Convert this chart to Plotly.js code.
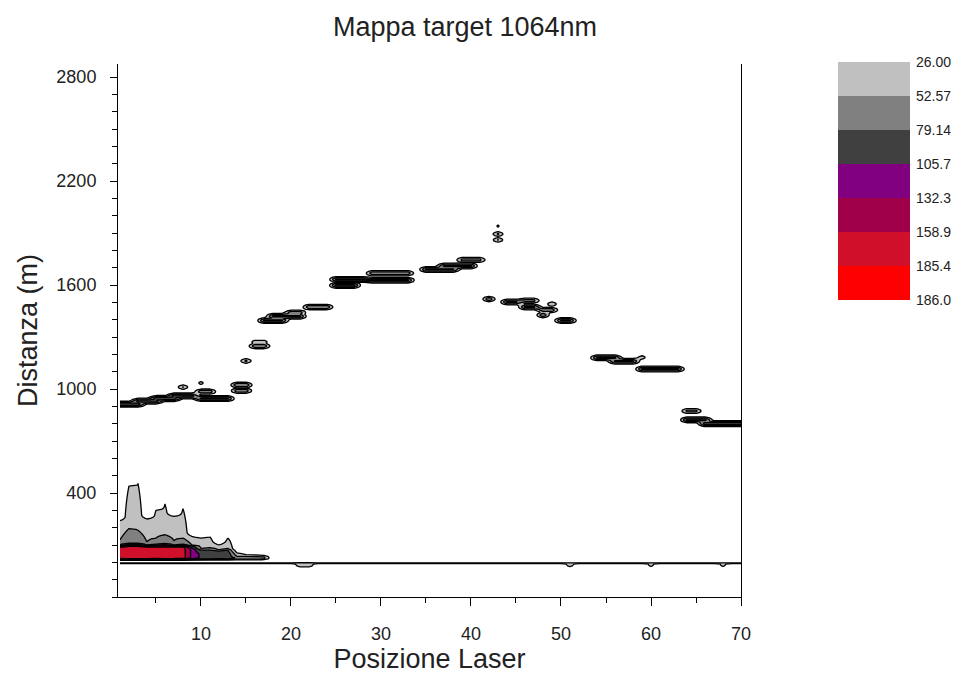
<!DOCTYPE html>
<html><head><meta charset="utf-8">
<script src="https://cdn.plot.ly/plotly-3.0.1.min.js"></script>
<style>html,body{margin:0;padding:0;background:#fff}#chart{width:959px;height:679px}</style>
</head><body><div id="chart"></div>
<script>
// ---- data ----
const titolo = 'Mappa target 1064nm';
const livelli = [26.00, 52.57, 79.14, 105.7, 132.3, 158.9, 185.4, 186.0];
const etichetteLivelli = ['26.00','52.57','79.14','105.7','132.3','158.9','185.4','186.0'];
const coloriBande = ['#c0c0c0','#808080','#404040','#800080','#a0004a','#d0102a','#ff0000'];
const tickDistanza = [400, 1000, 1600, 2200, 2800];

// near-field clutter, per laser position 1..17
const vicinoPos    = [1,2,3,4,5,6,7,8,9,10,11,12,13,14,15,16,17];
const vicinoPicco  = [172,178,180,178,175,178,176,170,125,100,95,90,95,75,70,70,60];
const vicinoNucleo = [85,88,88,85,85,85,85,85,75,50,50,45,50,25,25,25,25];
const vicinoH79    = [100,110,110,100,105,108,100,105,95,70,70,65,70,0,0,0,0];
const vicinoH53    = [130,195,185,117,140,158,125,140,100,80,85,72,80,35,34,34,33];
const vicinoH26    = [240,440,455,250,300,336,265,310,150,140,146,100,140,55,45,42,40];

// target echoes: first / last laser position, distance (m), amplitude
const ecoDa   = [1,3,5,7,10, 8,10,10,14,14,15,16,16,17,18,20,22, 25,25,29,29,35,37,39, 43,43,43,42,44,46,46,49,48,48,50, 54,56,59,59,64,64,66, 21,51,60,68];
const ecoA    = [3,5,7,9,13, 8,10,11,15,15,15,17,17,19,21,21,24, 27,28,33,33,38,40,41, 43,43,43,42,45,47,47,49,49,48,51, 56,58,59,63,65,66,70, 22,51,60,68];
const ecoDist = [912,930,945,960,945, 1011,1035,985,1023,990,1162,1248,1271,1395,1420,1440,1473, 1598,1632,1628,1668,1690,1710,1745, 1940,1894,1860,1519,1502,1510,1473,1490,1456,1427,1395, 1180,1160,1182,1115,873,822,800, -15,-15,-15,-15];
const ecoAmp  = [95,90,95,90,85, 55,35,70,80,70,60,75,40,85,85,70,75, 90,85,85,70,85,85,60, 30,58,55,80,85,60,85,50,70,80,85, 85,85,40,85,60,90,95, 45,40,35,35];

// baseline return near 0 m (all positions)
const rigaZeroDist = -5;
const rigaZeroAmp = 36;

// ---- grid ----
const posizioni = []; for (let p = 1; p <= 70; p++) posizioni.push(p);
const distanze = []; for (let d = -200; d <= 2875; d += 5) distanze.push(d);
const larghezzaEco = 15;
const z = distanze.map(() => posizioni.map(() => 0));
function put(j, i, v) { if (v > z[j][i]) z[j][i] = v; }

vicinoPos.forEach((p, k) => {
  const P = vicinoPicco[k];
  const pts = [[10, 0], [22, P], [vicinoNucleo[k], P]];
  [[vicinoH79[k], livelli[2]], [vicinoH53[k], livelli[1]], [vicinoH26[k], livelli[0]]].forEach(([h, v]) => {
    if (v < P && h > pts[pts.length - 1][0]) pts.push([h, v]);
  });
  pts.push([vicinoH26[k] + 20, 0]);
  distanze.forEach((d, j) => {
    for (let m = 0; m < pts.length - 1; m++) {
      const [d0, v0] = pts[m], [d1, v1] = pts[m + 1];
      if (d >= d0 && d <= d1) { put(j, p - 1, v0 + (v1 - v0) * (d - d0) / (d1 - d0)); break; }
    }
  });
});

ecoDa.forEach((a, k) => {
  for (let p = a; p <= ecoA[k]; p++) {
    distanze.forEach((d, j) => {
      put(j, p - 1, ecoAmp[k] * Math.exp(-Math.pow((d - ecoDist[k]) / larghezzaEco, 2)));
    });
  }
});

posizioni.forEach((p, i) => {
  distanze.forEach((d, j) => put(j, i, rigaZeroAmp * Math.exp(-Math.pow((d - rigaZeroDist) / 5, 2))));
});

// contour colours: white below first level, then the bands
const scalaContour = [[0, '#ffffff']];
coloriBande.forEach((c, i) => scalaContour.push([(i + 1) / 7, c]));

const scalaLegenda = [];
coloriBande.forEach((c, i) => { scalaLegenda.push([i / 7, c]); scalaLegenda.push([(i + 1) / 7, c]); });

const font = 'Liberation Sans, Arial, sans-serif';

const traces = [
  {
    type: 'contour', x: posizioni, y: distanze, z: z,
    autocontour: false,
    contours: { start: livelli[0], end: livelli[6], size: (livelli[6] - livelli[0]) / 6, coloring: 'fill', showlines: true },
    line: { color: '#000', width: 1.3, smoothing: 0 },
    colorscale: scalaContour, showscale: false, hoverinfo: 'skip'
  },
  {
    type: 'heatmap', xaxis: 'x2', yaxis: 'y2',
    x: [0], y: coloriBande.map((c, i) => i + 0.5), z: coloriBande.map((c, i) => [i]),
    zmin: -0.5, zmax: 6.5, colorscale: scalaLegenda, showscale: false, hoverinfo: 'skip'
  }
];

const W = 959, H = 679, L = 118, R = 20, T = 60, B = 82;
const pw = W - L - R, ph = H - T - B;
const layout = {
  width: W, height: H,
  margin: { l: L, r: R, t: T, b: B },
  paper_bgcolor: '#fff', plot_bgcolor: '#fff',
  showlegend: false,
  font: { family: font, color: '#222' },
  title: { text: titolo, font: { family: font, size: 27, color: '#222' }, x: 465 / W, xanchor: 'center', y: 1 - 27 / H, yanchor: 'middle' },
  xaxis: {
    domain: [0, (741 - L) / pw], range: [0.78, 70],
    tick0: 0, dtick: 10, ticks: 'outside', ticklen: 8, tickwidth: 1, tickcolor: '#000',
    minor: { tick0: 0, dtick: 5, ticks: 'outside', ticklen: 5, tickcolor: '#000' },
    showline: true, linecolor: '#000', linewidth: 1, mirror: false,
    showgrid: false, zeroline: false, ticklabelstandoff: 12,
    tickfont: { family: font, size: 18, color: '#222' },
    title: { text: 'Posizione Laser', font: { family: font, size: 27, color: '#222' }, standoff: 6 }
  },
  yaxis: {
    domain: [0, (597 - 64) / ph], range: [-200, 2875],
    tickmode: 'array', tickvals: tickDistanza, ticks: 'outside', ticklen: 7, tickwidth: 1, tickcolor: '#000',
    minor: { tick0: 0, dtick: 100, ticks: 'outside', ticklen: 5, tickcolor: '#000' },
    showline: true, linecolor: '#000', linewidth: 1, mirror: true,
    showgrid: false, zeroline: false, ticklabelstandoff: 10,
    tickfont: { family: font, size: 18, color: '#222' },
    title: { text: 'Distanza (m)', font: { family: font, size: 27, color: '#222' }, standoff: 10 }
  },
  xaxis2: { domain: [(838 - L) / pw, (910 - L) / pw], range: [-0.5, 0.5], anchor: 'y2', visible: false, fixedrange: true },
  yaxis2: {
    domain: [1 - (300 - T) / ph, 1 - (62 - T) / ph], range: [7, 0], anchor: 'x2', side: 'right',
    tickmode: 'array', tickvals: livelli.map((v, i) => i), ticktext: etichetteLivelli,
    ticks: '', showline: false, showgrid: false, zeroline: false, ticklabelstandoff: 5,
    tickfont: { family: font, size: 14, color: '#222' }
  }
};

Plotly.newPlot('chart', traces, layout, { staticPlot: true, displayModeBar: false });
</script>
</body></html>
